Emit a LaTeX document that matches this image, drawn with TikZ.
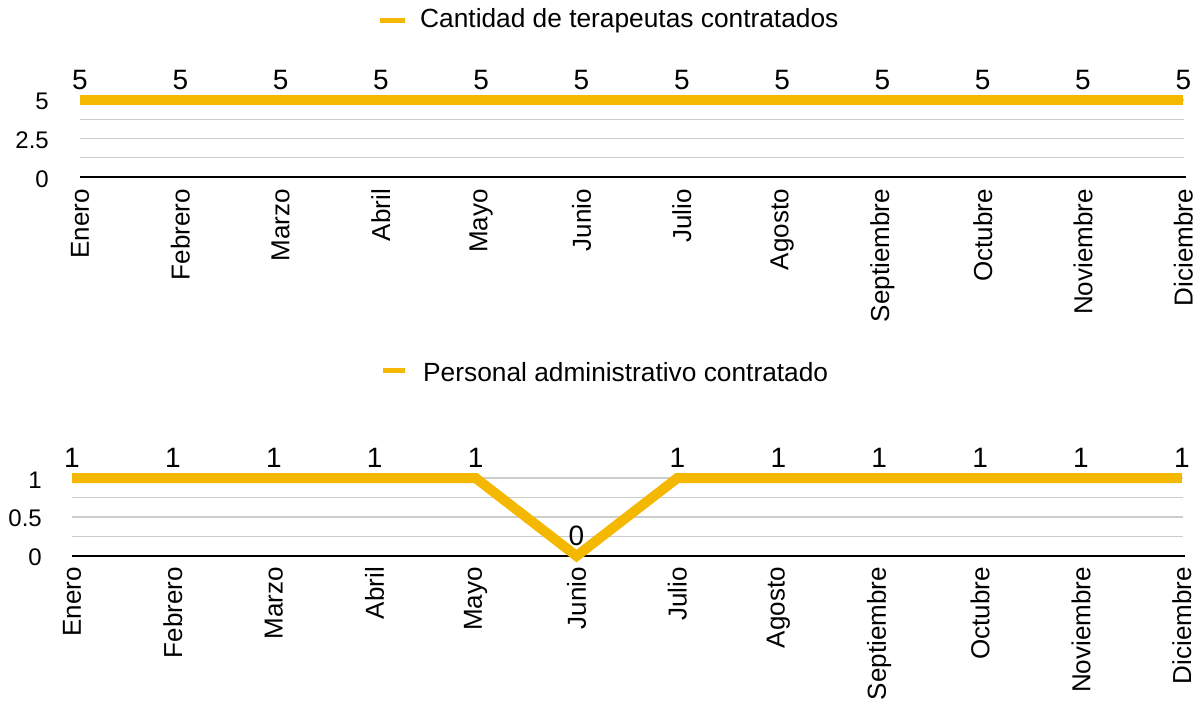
\documentclass[tikz,border=0pt]{standalone}
\usepackage{fontspec}
\setmainfont{Liberation Sans}
\definecolor{gold}{RGB}{244,184,0}
\definecolor{gridgray}{RGB}{205,205,205}
\begin{document}
\begin{tikzpicture}[x=1pt,y=-1pt,
  gridline/.style={gridgray, line width=1.3pt},
  axisline/.style={black, line width=2.8pt},
  series/.style={gold, line width=10pt, line join=miter},
  vlabel/.style={font=\fontsize{28}{30}\selectfont, inner sep=0pt, anchor=center},
  tlabel/.style={font=\fontsize{24}{26}\selectfont, inner sep=0pt, anchor=east},
  mlabel/.style={font=\fontsize{26}{28}\selectfont, inner sep=0pt, rotate=90, anchor=east},
  legtext/.style={font=\fontsize{26.3}{28}\selectfont, inner sep=0pt, anchor=west},
  legline/.style={gold, line width=5pt}]
\useasboundingbox (0,0) rectangle (1204,702);

% ---------- Top chart ----------
\draw[legline] (380,20) -- (405,20);
\node[legtext] (leg1) at (420,21) {Cantidad de terapeutas contratados};

\foreach \yy in {100,119.25,138.5,157.75}
  \draw[gridline] (80,\yy) -- (1184,\yy);
\draw[axisline] (80,177) -- (1186,177);

\node[tlabel] (t1a) at (49,101) {5};
\node[tlabel] (t1b) at (49,140) {2.5};
\node[tlabel] (t1c) at (49,179) {0};

\foreach \i in {0,...,11}
  \coordinate (p\i) at ({80+100.3*\i},100);
\draw[series] (p0) -- (p11);

\foreach \i in {0,...,11}
  \node[vlabel] (v\i) at ({80+100.3*\i},80) {5};

\foreach \m [count=\i from 0] in {Enero,Febrero,Marzo,Abril,Mayo,Junio,Julio,Agosto,Septiembre,Octubre,Noviembre,Diciembre}
  \node[mlabel] (tm\i) at ({80+100.3*\i},189) {\m};

% ---------- Bottom chart ----------
\draw[legline] (383,370) -- (405,370);
\node[legtext] (leg2) at (423,372) {Personal administrativo contratado};

\foreach \yy in {478,497.5,517,536.5}
  \draw[gridline] (72,\yy) -- (1183,\yy);
\draw[axisline] (72,556) -- (1185,556);

\node[tlabel] (t2a) at (42,480) {1};
\node[tlabel] (t2b) at (42,518) {0.5};
\node[tlabel] (t2c) at (42,557) {0};

\foreach \i in {0,...,11}
  \coordinate (q\i) at ({72+100.9*\i},478);
\coordinate (q5) at ({72+100.9*5},556);
\draw[series] (q0) -- (q4) -- (q5) -- (q6) -- (q11);

\foreach \i in {0,...,4,6,7,...,11}
  \node[vlabel] (w\i) at ({72+100.9*\i},458) {1};
\node[vlabel] (w5) at ({72+100.9*5},536) {0};

\foreach \m [count=\i from 0] in {Enero,Febrero,Marzo,Abril,Mayo,Junio,Julio,Agosto,Septiembre,Octubre,Noviembre,Diciembre}
  \node[mlabel] (bm\i) at ({72+100.9*\i},567) {\m};
\end{tikzpicture}
\end{document}
